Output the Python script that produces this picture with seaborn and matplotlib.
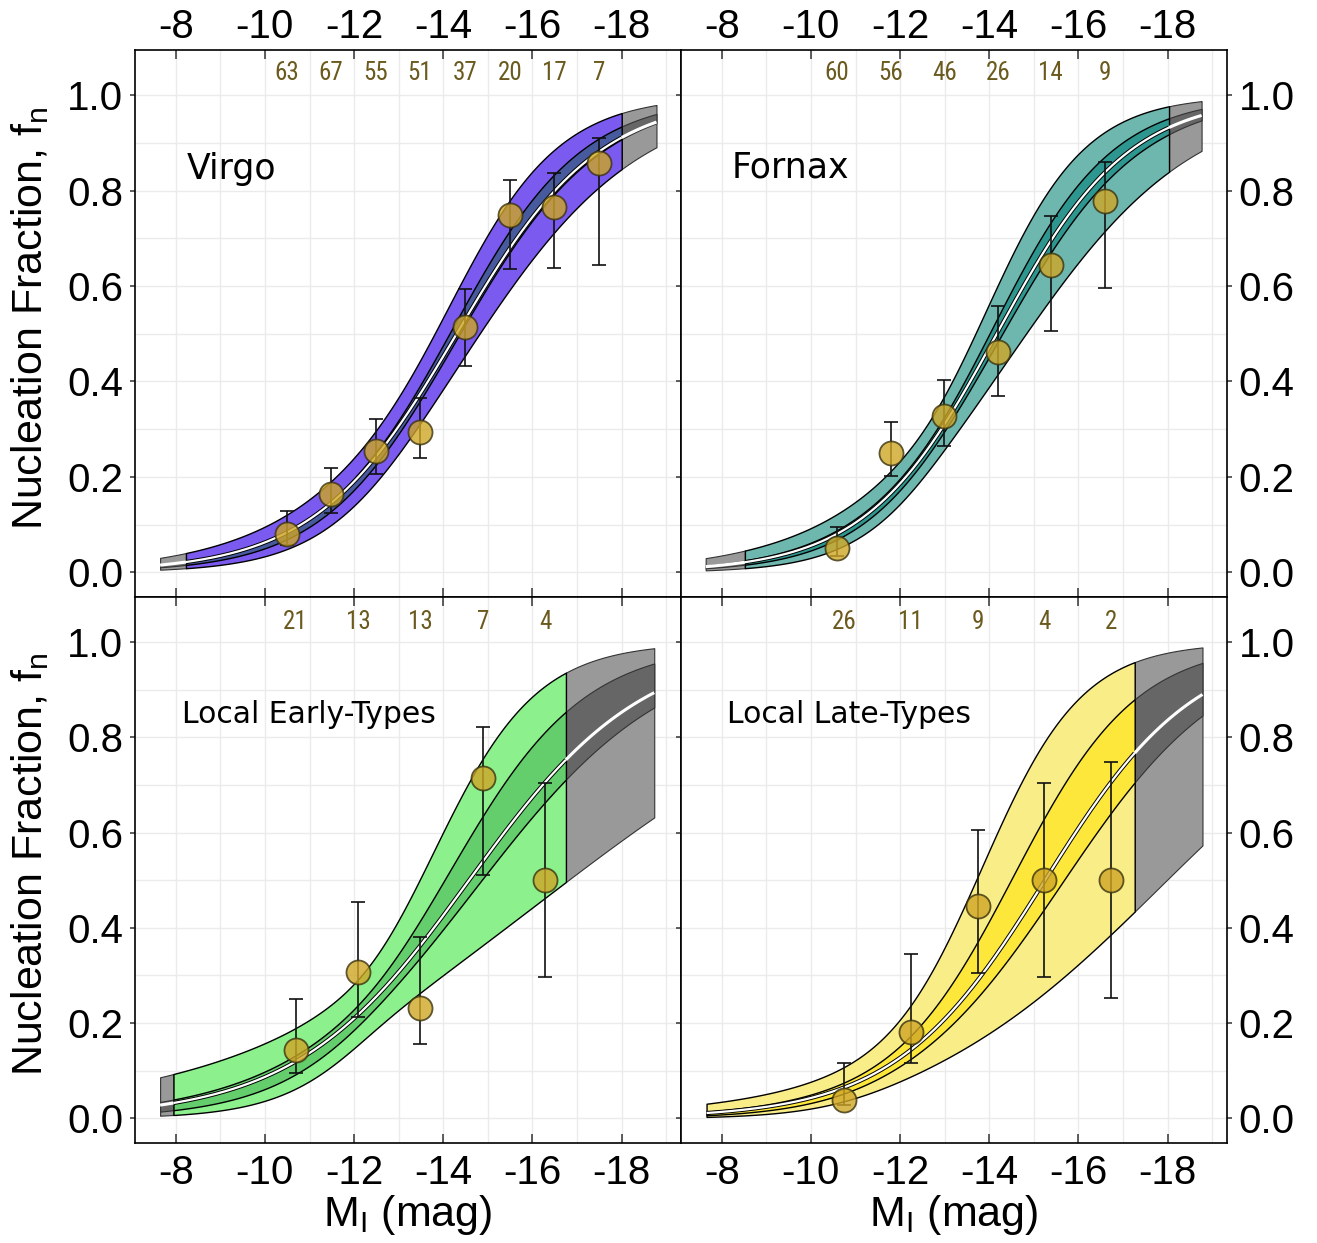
import numpy as np
import matplotlib
matplotlib.use("Agg")
import matplotlib.pyplot as plt
from matplotlib.ticker import MultipleLocator, FixedLocator
from matplotlib import font_manager
import seaborn as sns

sns.set_theme(style="white")
plt.rcParams['font.family'] = ['Liberation Sans', 'DejaVu Sans']
plt.rcParams['axes.unicode_minus'] = False
plt.rcParams['mathtext.fontset'] = 'custom'
plt.rcParams['mathtext.rm'] = 'Liberation Sans'
plt.rcParams['mathtext.it'] = 'Liberation Sans:italic'
plt.rcParams['text.color'] = 'black'

_avail = {f.name for f in font_manager.fontManager.ttflist}
count_font = 'Liberation Sans'
for _c in ['Liberation Sans Narrow', 'DejaVu Sans Condensed', 'Roboto Condensed',
           'Open Sans Condensed', 'Noto Sans Condensed']:
    if _c in _avail:
        count_font = _c
        break

# ---------------- data ----------------
panel_names = ["Virgo", "Fornax", "Local Early-Types", "Local Late-Types"]

virgo_mag = [-10.49, -11.48, -12.48, -13.48, -14.49, -15.50, -16.48, -17.49]
virgo_fn = [0.080, 0.164, 0.255, 0.295, 0.514, 0.749, 0.766, 0.859]
virgo_lo = [0.057, 0.125, 0.206, 0.239, 0.433, 0.636, 0.637, 0.645]
virgo_hi = [0.128, 0.219, 0.321, 0.366, 0.594, 0.822, 0.838, 0.910]
virgo_n = [63, 67, 55, 51, 37, 20, 17, 7]

fornax_mag = [-10.59, -11.79, -12.99, -14.19, -15.38, -16.59]
fornax_fn = [0.050, 0.251, 0.328, 0.462, 0.644, 0.779]
fornax_lo = [0.034, 0.202, 0.265, 0.370, 0.505, 0.596]
fornax_hi = [0.094, 0.316, 0.402, 0.559, 0.747, 0.861]
fornax_n = [60, 56, 46, 26, 14, 9]

early_mag = [-10.69, -12.09, -13.48, -14.89, -16.29]
early_fn = [0.143, 0.308, 0.231, 0.715, 0.500]
early_lo = [0.096, 0.213, 0.155, 0.511, 0.296]
early_hi = [0.251, 0.455, 0.380, 0.822, 0.704]
early_n = [21, 13, 13, 7, 4]

late_mag = [-10.74, -12.24, -13.75, -15.23, -16.74]
late_fn = [0.039, 0.182, 0.445, 0.500, 0.500]
late_lo = [0.027, 0.117, 0.305, 0.296, 0.252]
late_hi = [0.117, 0.345, 0.605, 0.704, 0.748]
late_n = [26, 11, 9, 4, 2]

# logistic fit (median): magnitude of 50% nucleation and slope per mag
fit_m50 = [-14.30, -14.17, -14.58, -15.25]
fit_slope = [0.63, 0.68, 0.514, 0.593]
# credible band in logit space: narrowest magnitude, half-width there, growth,
# inner/outer ratio and skew of the band centre
band_mc = [-13.2, -12.77, -12.35, -11.5]
band_w0 = [0.28, 0.26, 0.40, 0.55]
band_w1 = [0.151, 0.193, 0.293, 0.279]
band_inner = [0.24, 0.27, 0.32, 0.33]
band_skew = [0.03, 0.015, 0.05, 0.042]
# magnitude ranges: model start, data start, data end, model end
rng_model_lo = [-7.65, -7.64, -7.65, -7.66]
rng_data_lo = [-8.23, -8.52, -7.95, -7.66]
rng_data_hi = [-18.00, -18.03, -16.75, -17.26]
rng_model_hi = [-18.78, -18.76, -18.73, -18.78]

x_ticks = [-8, -10, -12, -14, -16, -18]
y_ticks = [0.0, 0.2, 0.4, 0.6, 0.8, 1.0]

outer_cols = ['#7a5aef', '#6db7af', '#8cf08c', '#f9ed88']
inner_cols = ['#475a9e', '#2d968f', '#64cd6c', '#fce73a']

panels = [
    (virgo_mag, virgo_fn, virgo_lo, virgo_hi, virgo_n),
    (fornax_mag, fornax_fn, fornax_lo, fornax_hi, fornax_n),
    (early_mag, early_fn, early_lo, early_hi, early_n),
    (late_mag, late_fn, late_lo, late_hi, late_n),
]

W, H = 1317, 1243
fig = plt.figure(figsize=(W / 100, H / 100), dpi=100)


def rect(l, t, r, b):
    return [l / W, 1 - b / H, (r - l) / W, (b - t) / H]


rects = [rect(135, 50, 681, 597), rect(681, 50, 1227, 597),
         rect(135, 597, 681, 1143), rect(681, 597, 1227, 1143)]

XLIM = (-7.087, -19.33)
YLIM = (-0.052, 1.095)


def sig(z):
    return 1.0 / (1.0 + np.exp(-z))


def curves(i, m):
    L = fit_slope[i] * (fit_m50[i] - m)
    d = band_mc[i] - m
    hw = np.sqrt(band_w0[i] ** 2 + (band_w1[i] * d) ** 2)
    c = L + band_skew[i] * d
    r = band_inner[i]
    return sig(L), sig(c - hw), sig(c + hw), sig(c - r * hw), sig(c + r * hw)


def draw_band(ax, i, m, oc, ic, ec, lw, med_black):
    med, olo, ohi, ilo, ihi = curves(i, m)
    ax.fill_between(m, olo, ohi, facecolor=oc, edgecolor=ec, linewidth=lw, zorder=2)
    ax.fill_between(m, ilo, ihi, facecolor=ic, edgecolor=ec, linewidth=lw, zorder=3)
    if med_black:
        ax.plot(m, med, color='black', lw=3.0, zorder=4, solid_capstyle='butt')
        ax.plot(m, med, color='white', lw=1.6, zorder=4.1, solid_capstyle='butt')
    else:
        ax.plot(m, med, color='white', lw=2.2, zorder=4.1, solid_capstyle='butt')


name_pos = [(0.095, 0.764, 25), (0.093, 0.767, 25), (0.086, 0.769, 21.5), (0.085, 0.769, 21.5)]

for i, (mag, fn, lo, hi, nn) in enumerate(panels):
    row, col = divmod(i, 2)
    ax = fig.add_axes(rects[i])
    ax.set_xlim(*XLIM)
    ax.set_ylim(*YLIM)
    ax.set_facecolor('white')

    ax.xaxis.set_major_locator(FixedLocator(x_ticks))
    ax.xaxis.set_minor_locator(MultipleLocator(1))
    ax.yaxis.set_major_locator(FixedLocator(y_ticks))
    ax.yaxis.set_minor_locator(MultipleLocator(0.1))
    ax.set_xticklabels([str(t) for t in x_ticks])
    ax.set_yticklabels([f"{t:.1f}" for t in y_ticks])
    ax.grid(which='both', color='#ebebeb', lw=1.0, zorder=0)
    ax.set_axisbelow(True)

    ax.tick_params(axis='x', which='major', direction='in', top=True, bottom=True,
                   labeltop=(row == 0), labelbottom=(row == 1), length=6.5, width=1.1,
                   color='#333333', labelsize=29, labelcolor='black',
                   pad=3 if row == 0 else 8)
    ax.tick_params(axis='y', which='major', direction='out', left=True, right=True,
                   labelleft=(col == 0), labelright=(col == 1), length=3.5, width=1.1,
                   color='#333333', labelsize=29, labelcolor='black', pad=5)
    ax.tick_params(which='minor', length=0)
    for sp in ax.spines.values():
        sp.set_color('black')
        sp.set_linewidth(1.2)

    # model bands
    m_grey_l = np.linspace(rng_data_lo[i], rng_model_lo[i], 30)
    m_data = np.linspace(rng_data_hi[i], rng_data_lo[i], 300)
    m_grey_r = np.linspace(rng_model_hi[i], rng_data_hi[i], 60)
    if rng_model_lo[i] != rng_data_lo[i]:
        draw_band(ax, i, m_grey_l, '#999999', '#666666', '#333333', 0.8, False)
    draw_band(ax, i, m_grey_r, '#999999', '#666666', '#333333', 0.8, False)
    draw_band(ax, i, m_data, outer_cols[i], inner_cols[i], 'black', 1.0, True)

    # data points
    fn_a = np.array(fn)
    yerr = np.vstack([fn_a - np.array(lo), np.array(hi) - fn_a])
    ax.errorbar(mag, fn, yerr=yerr, fmt='none', ecolor='#111111', elinewidth=1.2,
                capsize=5, capthick=1.2, zorder=5)
    sns.scatterplot(x=mag, y=fn, ax=ax, s=300, color='#cfa626', alpha=0.8,
                    edgecolor='#3a3310', linewidth=1.3, zorder=6, legend=False)

    # counts
    ycount = 1.046 if row == 0 else 1.042
    for xm, n in zip(mag, nn):
        ax.text(xm, ycount, str(n), ha='center', va='center', fontsize=18,
                color='#6b5a1e', family=[count_font, 'DejaVu Sans'], zorder=7)

    # panel names
    px, py, fs = name_pos[i]
    ax.text(px, py, panel_names[i], transform=ax.transAxes, ha='left', va='baseline',
            fontsize=fs, family=['DejaVu Sans'], color='black', zorder=8)

# axis labels
for yc in (1 - 318 / H, 1 - 864 / H):
    fig.text(30 / W, yc, r"Nucleation Fraction, f$_\mathrm{n}$", rotation=90,
             ha='center', va='center', fontsize=31, color='black')
for xc in (408 / W, 954 / W):
    fig.text(xc, 1 - 1215 / H, r"M$_\mathrm{I}$ (mag)", ha='center', va='center',
             fontsize=31, color='black')

fig.savefig("out.png", dpi=100, facecolor='white')
